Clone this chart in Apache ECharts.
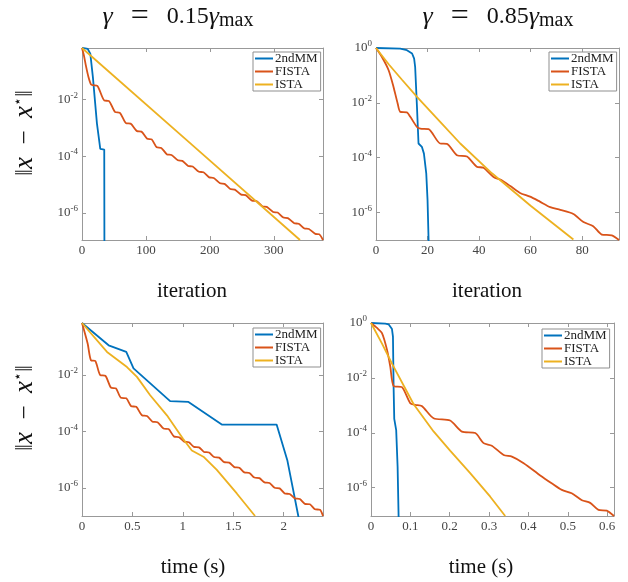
<!DOCTYPE html>
<html><head><meta charset="utf-8">
<script src="https://cdn.jsdelivr.net/npm/echarts@6/dist/echarts.min.js"></script>
<style>html,body{margin:0;padding:0;background:#fff}#c{width:628px;height:582px}</style>
</head><body><div id="c"></div>
<script>
const seriesNames = ['2ndMM', 'FISTA', 'ISTA'];
const colors = ['#0072BD', '#D95319', '#EDB120'];
const titles = ['0.15', '0.85'];
const xLabels = ['iteration', 'iteration', 'time (s)', 'time (s)'];

// top-left: gamma = 0.15 gamma_max, error vs iteration
const tl2ndMM = [[0,0.65],[5,0.63],[9,0.6],[11.5,0.52],[13,0.41],[17,0.062],[23.4,1.4e-3],[25,1.3e-3],[28.6,1.8e-4],[34.8,1.7e-4],[35.2,1e-9]];
const tlFISTA = [[0,0.65],[3,0.355],[6,0.158],[10,0.063],[14,0.034],[17,0.0316],[24,0.03],[35,0.0091],[42,0.0088],[52,0.00355],[59,0.0034],[69,0.00145],[76,0.0014],[86,7.6e-4],[93,7.3e-4],[102,4.1e-4],[109,3.9e-4],[117,2.04e-4],[124,1.95e-4],[133,1.15e-4],[140,1.1e-4],[150,7.1e-5],[157,6.8e-5],[166,4.5e-5],[173,4.3e-5],[183,2.8e-5],[190,2.7e-5],[199,1.78e-5],[206,1.7e-5],[216,1.1e-5],[223,1.05e-5],[232,6.9e-6],[239,6.6e-6],[249,4.4e-6],[256,4.2e-6],[266,2.7e-6],[273,2.6e-6],[282,1.7e-6],[289,1.62e-6],[299,1.07e-6],[306,1.02e-6],[315,6.8e-7],[322,6.5e-7],[332,4.3e-7],[339,4.1e-7],[348,2.8e-7],[355,2.7e-7],[365,1.8e-7],[371,1.75e-7],[377,1.1e-7]];
const tlISTA = [[0,0.65],[170,2.75e-4],[341,1.1e-7]];

// top-right: gamma = 0.85 gamma_max, error vs iteration
const tr2ndMM = [[0,1],[9.4,0.955],[12,0.83],[14,0.63],[14.8,0.41],[15.2,0.2],[15.9,7.1e-3],[16.5,3.3e-4],[17.8,2.5e-4],[18.6,1.41e-4],[19.5,2.7e-5],[20,2.9e-6],[20.4,1.05e-7],[20.6,1e-9]];
const trFISTA = [[0,1],[2.3,0.47],[4.9,0.155],[6.8,0.038],[8.4,9.5e-3],[9.4,4.7e-3],[12,4.5e-3],[13.3,3.1e-3],[15.9,1.32e-3],[17.2,1.15e-3],[20.4,1.1e-3],[24.9,3.3e-4],[27.5,3.2e-4],[31.4,1.23e-4],[35.3,1.1e-4],[39.1,4.7e-5],[41.7,4.3e-5],[45.6,2.0e-5],[48.8,1.5e-5],[52.1,9.3e-6],[55.9,5.2e-6],[59.8,3.8e-6],[63.6,2.5e-6],[67.6,1.58e-6],[71.5,1.26e-6],[76.6,8.9e-7],[80.5,4.5e-7],[84.3,3.2e-7],[87.6,1.58e-7],[91.5,1.48e-7],[94.3,1.0e-7]];
const trISTA = [[0,1],[5,0.25],[10,0.071],[15.9,0.0166],[25,2.0e-3],[32.7,3.3e-4],[45,2.7e-5],[60,1.78e-6],[76.6,1.05e-7]];

// bottom-left: gamma = 0.15 gamma_max, error vs time (s)
const bl2ndMM = [[0,0.69],[0.264,0.112],[0.439,0.065],[0.511,0.017],[0.874,1.17e-3],[1.056,1.1e-3],[1.386,1.74e-4],[1.93,1.74e-4],[2.036,9.5e-6],[2.145,1e-7],[2.16,5.4e-8]];
const blFISTA = [[0,0.69],[0.056,0.129],[0.089,0.033],[0.132,0.031],[0.181,0.0098],[0.231,0.0093],[0.287,0.00355],[0.337,0.0033],[0.386,0.00155],[0.439,0.00148],[0.488,7.8e-4],[0.538,7.4e-4],[0.594,3.7e-4],[0.644,3.5e-4],[0.699,2.2e-4],[0.749,2.1e-4],[0.808,1.26e-4],[0.858,1.2e-4],[0.914,6.5e-5],[0.963,6.2e-5],[1.013,4.3e-5],[1.06,4.1e-5],[1.11,2.8e-5],[1.16,2.7e-5],[1.21,1.86e-5],[1.26,1.78e-5],[1.31,1.23e-5],[1.36,1.17e-5],[1.41,8.1e-6],[1.46,7.8e-6],[1.51,5.4e-6],[1.56,5.1e-6],[1.61,3.5e-6],[1.66,3.35e-6],[1.71,2.3e-6],[1.76,2.2e-6],[1.81,1.55e-6],[1.86,1.48e-6],[1.91,1.0e-6],[1.96,9.5e-7],[2.01,6.3e-7],[2.06,6.0e-7],[2.11,4.2e-7],[2.16,4.0e-7],[2.21,2.7e-7],[2.26,2.6e-7],[2.31,1.74e-7],[2.36,1.66e-7],[2.39,1.0e-7]];
const blISTA = [[0,0.69],[0.248,0.065],[0.446,0.019],[0.545,0.0085],[0.676,0.0019],[0.842,3.7e-4],[1.0,5.6e-5],[1.089,2.1e-5],[1.204,1.26e-5],[1.337,4.3e-6],[1.535,6.3e-7],[1.716,1e-7]];

// bottom-right: gamma = 0.85 gamma_max, error vs time (s)
const br2ndMM = [[0,1],[0.0363,0.955],[0.0447,0.9],[0.049,0.8],[0.0533,0.6],[0.0558,0.32],[0.0574,4.9e-3],[0.0591,3.2e-4],[0.064,1.26e-4],[0.0676,5.9e-6],[0.0701,9.3e-8],[0.071,1e-8]];
const brFISTA = [[0,1],[0.0152,0.66],[0.0279,0.43],[0.0406,0.107],[0.049,0.026],[0.0574,5.1e-3],[0.0787,4.6e-3],[0.0997,1.2e-3],[0.112,1.05e-3],[0.129,9.5e-4],[0.159,3.4e-4],[0.201,2.8e-4],[0.231,1.1e-4],[0.265,9.8e-5],[0.286,4.2e-5],[0.307,3.4e-5],[0.337,1.55e-5],[0.358,1.35e-5],[0.388,7.8e-6],[0.43,2.8e-6],[0.459,1.45e-6],[0.485,8.3e-7],[0.51,6.3e-7],[0.536,3.5e-7],[0.557,2.8e-7],[0.578,1.55e-7],[0.599,1.45e-7],[0.6175,9.3e-8]];
const brISTA = [[0,1],[0.028,0.178],[0.054,0.0316],[0.108,1.12e-3],[0.159,1.12e-4],[0.201,2.24e-5],[0.252,3.4e-6],[0.303,4.7e-7],[0.341,9.3e-8]];

// axis extents per panel
const xMax = [377, 94.3, 2.39, 0.6175];
const xInterval = [100, 20, 0.5, 0.1];
const yMin = [1.1e-7, 1e-7, 1e-7, 9.3e-8];
const yMax = [0.65, 1, 0.69, 1];

const panelData = [
  [tl2ndMM, tlFISTA, tlISTA],
  [tr2ndMM, trFISTA, trISTA],
  [bl2ndMM, blFISTA, blISTA],
  [br2ndMM, brFISTA, brISTA]
];

const grids = [
  {left: 82, top: 48, width: 241, height: 192},
  {left: 376, top: 48, width: 243, height: 192},
  {left: 82, top: 323, width: 241, height: 193},
  {left: 371, top: 323, width: 243, height: 193}
];
const legendPos = [[253, 52], [549, 52], [253, 328], [542, 329]];

const SERIF = '"Liberation Serif", "DejaVu Serif", serif';
const AX = '#999999';
const LBL = '#444444';

function yFmt(v) {
  const e = Math.log10(v);
  const r = Math.round(e);
  if (Math.abs(e - r) > 1e-6 || r % 2 !== 0) return '';
  return '10{s|' + r + '}';
}

const xAxis = [], yAxis = [], series = [], legend = [];
for (let i = 0; i < 4; i++) {
  xAxis.push({gridIndex: i, type: 'value', min: 0, max: xMax[i], interval: xInterval[i], position: 'bottom',
    splitLine: {show: false},
    axisLine: {show: true, onZero: false, lineStyle: {color: AX, width: 1}},
    axisTick: {show: true, inside: true, length: 4, lineStyle: {color: AX}},
    axisLabel: {show: true, margin: 4, fontFamily: SERIF, fontSize: 13, color: LBL, showMaxLabel: false}});
}
for (let i = 0; i < 4; i++) {
  xAxis.push({gridIndex: i, type: 'value', min: 0, max: xMax[i], interval: xInterval[i], position: 'top',
    splitLine: {show: false}, axisLabel: {show: false},
    axisLine: {show: true, onZero: false, lineStyle: {color: AX, width: 1}},
    axisTick: {show: true, inside: true, length: 4, lineStyle: {color: AX}}});
}
for (let i = 0; i < 4; i++) {
  yAxis.push({gridIndex: i, type: 'log', logBase: 100, min: yMin[i], max: yMax[i], position: 'left',
    splitLine: {show: false}, minorTick: {show: false},
    axisLine: {show: true, onZero: false, lineStyle: {color: AX, width: 1}},
    axisTick: {show: true, inside: true, length: 4, lineStyle: {color: AX}},
    axisLabel: {show: true, margin: 4, formatter: yFmt, fontFamily: SERIF, fontSize: 13, lineHeight: 17, color: LBL,
      rich: {s: {fontFamily: SERIF, fontSize: 9, lineHeight: 9, verticalAlign: 'top', color: LBL}}}});
}
for (let i = 0; i < 4; i++) {
  yAxis.push({gridIndex: i, type: 'log', logBase: 100, min: yMin[i], max: yMax[i], position: 'right',
    splitLine: {show: false}, axisLabel: {show: false},
    axisLine: {show: true, onZero: false, lineStyle: {color: AX, width: 1}},
    axisTick: {show: true, inside: true, length: 4, lineStyle: {color: AX}}});
}
for (let i = 0; i < 4; i++) {
  for (let k = 0; k < 3; k++) {
    series.push({type: 'line', name: seriesNames[k], xAxisIndex: i, yAxisIndex: i,
      data: panelData[i][k], symbol: 'none', showSymbol: false, clip: true,
      smooth: k === 1 ? 0.25 : false,
      lineStyle: {color: colors[k], width: 1.8}, itemStyle: {color: colors[k]}});
  }
  legend.push({data: seriesNames, orient: 'vertical', left: legendPos[i][0], top: legendPos[i][1],
    icon: 'rect', itemWidth: 18, itemHeight: 2, itemGap: 0, padding: [0, 3, 0, 2],
    borderColor: '#8f8f8f', borderWidth: 1, backgroundColor: '#ffffff', selectedMode: false,
    textStyle: {fontFamily: SERIF, fontSize: 13, lineHeight: 12.3, color: '#222', padding: [0, 0, 0, -3]}});
}

const graphic = [];
const titleX = [178, 498];
for (let j = 0; j < 2; j++) {
  graphic.push({type: 'text', x: titleX[j], y: 17, style: {
    text: '{g|γ}   {eq|=}   ' + titles[j] + '{g|γ}{sub|max}', align: 'center', verticalAlign: 'middle',
    fontFamily: SERIF, fontSize: 24, lineHeight: 28, fill: '#111',
    rich: {g: {fontFamily: SERIF, fontStyle: 'italic', fontSize: 26, lineHeight: 28, fill: '#111'},
      eq: {fontFamily: SERIF, fontSize: 32, lineHeight: 28, fill: '#111'},
      sub: {fontFamily: SERIF, fontSize: 20, lineHeight: 20, verticalAlign: 'bottom', fill: '#111'}}}});
}
const yLabY = [133, 408];
for (let j = 0; j < 2; j++) {
  graphic.push({type: 'text', x: 25, y: yLabY[j], rotation: Math.PI / 2, style: {
    text: '‖{i|x}  −  {i|x}{s|⋆}‖', align: 'center', verticalAlign: 'middle',
    fontFamily: SERIF, fontSize: 25, lineHeight: 28, fill: '#111',
    rich: {i: {fontFamily: SERIF, fontStyle: 'italic', fontSize: 27, lineHeight: 28, fill: '#111'},
      s: {fontFamily: '"DejaVu Serif", serif', fontSize: 14, lineHeight: 14, verticalAlign: 'top', fill: '#111'}}}});
}
const xLabPos = [[192, 291], [487, 291], [193, 567], [481, 567]];
for (let i = 0; i < 4; i++) {
  graphic.push({type: 'text', x: xLabPos[i][0], y: xLabPos[i][1], style: {
    text: xLabels[i], align: 'center', verticalAlign: 'middle', fontFamily: SERIF, fontSize: 21, fill: '#111'}});
}

const chart = echarts.init(document.getElementById('c'), null, {renderer: 'canvas'});
chart.setOption({animation: false, backgroundColor: '#ffffff', grid: grids, xAxis, yAxis, series, legend, graphic});
</script>
</body></html>
